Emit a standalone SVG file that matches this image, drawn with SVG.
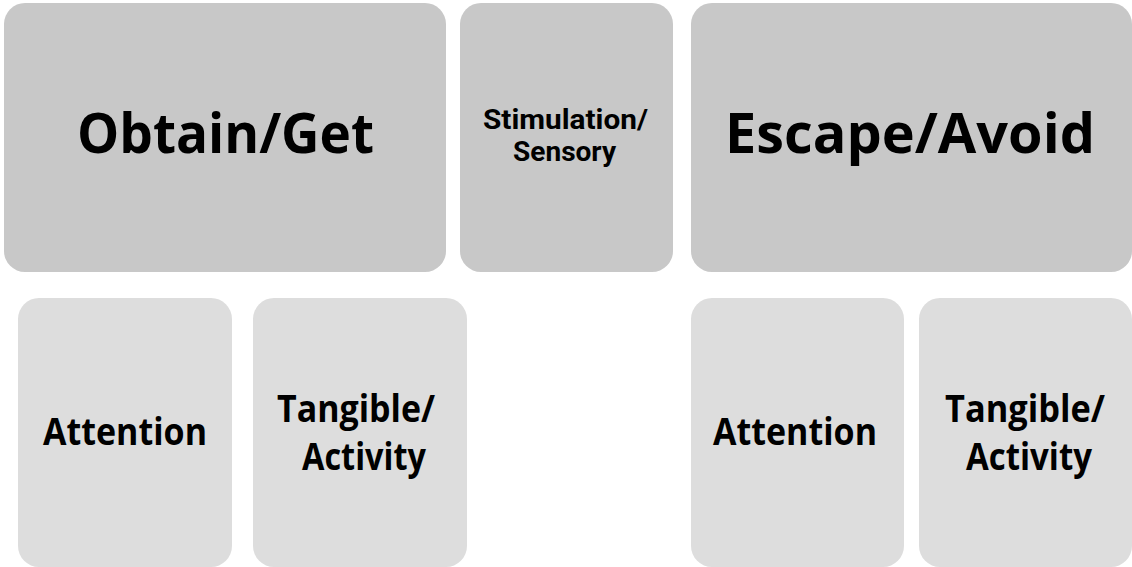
<svg xmlns="http://www.w3.org/2000/svg" width="1132" height="567" viewBox="0 0 1132 567">
  <style>
    .top { fill: #c8c8c8; }
    .sub { fill: #dddddd; }
    text { font-family: "Open Sans", Lato, "Liberation Sans", sans-serif; font-weight: 700; fill: #000000; text-anchor: middle; }
    .big { font-size: 55px; }
    .mid { font-size: 37px; }
    .small { font-family: Roboto, "Open Sans", "Liberation Sans", sans-serif; font-size: 27px; }
  </style>
  <rect width="1132" height="567" fill="#ffffff"/>

  <!-- top row: main function categories -->
  <g id="obtain-get">
    <rect class="top" x="4" y="3" width="442" height="269" rx="21" ry="21"/>
    <text class="big" x="225.5" y="153" textLength="297" lengthAdjust="spacingAndGlyphs">Obtain/Get</text>
  </g>
  <g id="stimulation-sensory">
    <rect class="top" x="460" y="3" width="213" height="269" rx="21" ry="21"/>
    <text class="small" x="565.5" y="129" textLength="165" lengthAdjust="spacingAndGlyphs">Stimulation/</text>
    <text class="small" x="564.5" y="161" textLength="103" lengthAdjust="spacingAndGlyphs">Sensory</text>
  </g>
  <g id="escape-avoid">
    <rect class="top" x="691" y="3" width="441" height="269" rx="21" ry="21"/>
    <text class="big" x="910" y="153" textLength="370" lengthAdjust="spacingAndGlyphs">Escape/Avoid</text>
  </g>

  <!-- bottom row: sub-categories -->
  <g id="obtain-attention">
    <rect class="sub" x="18" y="298" width="214" height="269" rx="21" ry="21"/>
    <text class="mid" x="125" y="445" textLength="164" lengthAdjust="spacingAndGlyphs">Attention</text>
  </g>
  <g id="obtain-tangible">
    <rect class="sub" x="253" y="298" width="214" height="269" rx="21" ry="21"/>
    <text class="mid" x="356" y="422" textLength="158" lengthAdjust="spacingAndGlyphs">Tangible/</text>
    <text class="mid" x="364" y="470" textLength="124" lengthAdjust="spacingAndGlyphs">Activity</text>
  </g>
  <g id="escape-attention">
    <rect class="sub" x="691" y="298" width="213" height="269" rx="21" ry="21"/>
    <text class="mid" x="795" y="445" textLength="164" lengthAdjust="spacingAndGlyphs">Attention</text>
  </g>
  <g id="escape-tangible">
    <rect class="sub" x="919" y="298" width="213" height="269" rx="21" ry="21"/>
    <text class="mid" x="1025" y="422" textLength="160" lengthAdjust="spacingAndGlyphs">Tangible/</text>
    <text class="mid" x="1029" y="470" textLength="126" lengthAdjust="spacingAndGlyphs">Activity</text>
  </g>

  <g id="connectors"></g>
</svg>
